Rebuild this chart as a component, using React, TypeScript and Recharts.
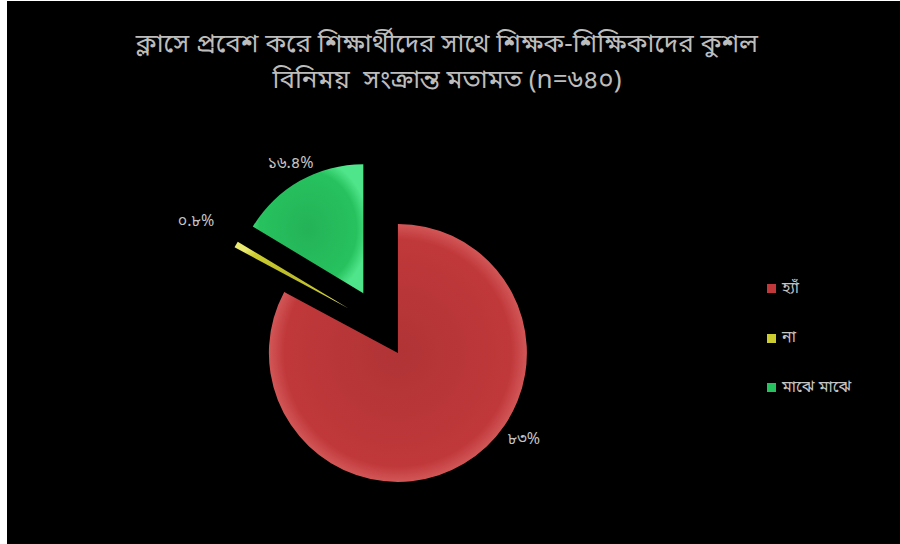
import { Cell, Pie, PieChart } from "recharts";

const categories = ["হ্যাঁ", "না", "মাঝে মাঝে"];
const values = [83, 0.8, 16.4];
const valueLabels = ["৮৩%", "০.৮%", "১৬.৪%"];

const colors = ["#c0383a", "#cccc30", "#27c25f"];
const rims = ["#e27070", "#eaea70", "#4fe58a"];
const explode = [29, 40, 40];
const labelRadius = [153, 175, 148];
const labelShift = [-24.5, 0, 0];

const W = 893;
const H = 543;
const CX = 376;
const CY = 327;
const R = 129;
const RAD = Math.PI / 180;

const total = values.reduce((a, b) => a + b, 0);
const data = categories.map((name, i) => ({ name, value: values[i] }));

// clockwise-from-top mid angle of each slice
const midCw = values.map((v, i) => {
  const before = values.slice(0, i).reduce((a, b) => a + b, 0);
  return ((before + v / 2) / total) * 360;
});

const makeLabel = (slice: number) => (props: any) => {
  if (props.index !== slice) return null;
  const cw = 90 - props.midAngle + labelShift[slice];
  const r = labelRadius[slice];
  const x = props.cx + r * Math.sin(cw * RAD);
  const y = props.cy - r * Math.cos(cw * RAD);
  return (
    <text
      x={x}
      y={y}
      fill="#c4c4c4"
      fontSize={16}
      textAnchor="middle"
      dominantBaseline="central"
      fontFamily="'Noto Sans Bengali', 'Noto Sans', sans-serif"
    >
      {valueLabels[slice]}
    </text>
  );
};

export default function App() {
  return (
    <div style={{ position: "relative", width: 900, height: 544, background: "#fff" }}>
      <style>{"body{margin:0}"}</style>
      <div
        style={{
          position: "absolute",
          left: 7,
          top: 1,
          width: W,
          height: H,
          background: "#000",
          fontFamily: "'Noto Sans Bengali', 'Noto Sans', sans-serif",
        }}
      >
        <div
          style={{
            position: "absolute",
            left: 0,
            top: 27,
            width: 880,
            textAlign: "center",
            color: "#bdbdbd",
            fontSize: 26,
            lineHeight: "36px",
          }}
        >
          ক্লাসে প্রবেশ করে শিক্ষার্থীদের সাথে শিক্ষক-শিক্ষিকাদের কুশল
          <br />
          বিনিময় &nbsp;সংক্রান্ত মতামত (n=৬৪০)
        </div>
        <PieChart
          width={W}
          height={H}
          margin={{ top: 0, right: 0, bottom: 0, left: 0 }}
          style={{ position: "absolute", left: 0, top: 0 }}
        >
          <defs>
            {colors.map((c, i) => (
              <radialGradient key={i} id={`slice${i}`} cx="50%" cy="50%" r="55%">
                <stop offset="0%" stopColor={c} stopOpacity={0.92} />
                <stop offset="80%" stopColor={c} />
                <stop offset="100%" stopColor={rims[i]} />
              </radialGradient>
            ))}
          </defs>
          {values.map((_, i) => (
            <Pie
              key={i}
              data={data}
              dataKey="value"
              nameKey="name"
              cx={CX + explode[i] * Math.sin(midCw[i] * RAD)}
              cy={CY - explode[i] * Math.cos(midCw[i] * RAD)}
              outerRadius={R}
              startAngle={90}
              endAngle={-270}
              stroke="none"
              label={makeLabel(i)}
              labelLine={false}
              isAnimationActive={false}
            >
              {data.map((d, j) => (
                <Cell key={d.name} fill={j === i ? `url(#slice${i})` : "transparent"} />
              ))}
            </Pie>
          ))}
        </PieChart>
        <div style={{ position: "absolute", left: 760, top: 263 }}>
          {categories.map((c, i) => (
            <div
              key={c}
              style={{ display: "flex", alignItems: "center", height: 49.5, color: "#c4c4c4", fontSize: 16 }}
            >
              <span style={{ width: 9, height: 9, background: colors[i], marginRight: 6 }} />
              {c}
            </div>
          ))}
        </div>
      </div>
    </div>
  );
}
